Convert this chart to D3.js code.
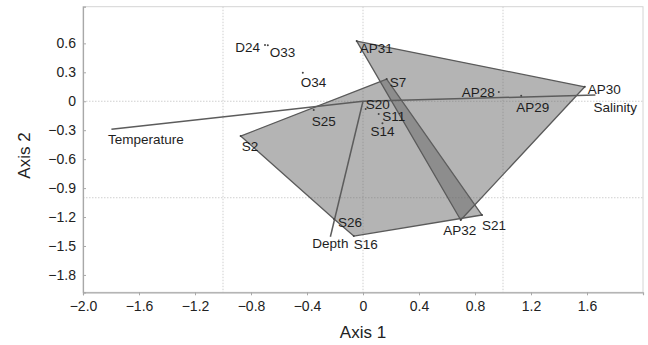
<!DOCTYPE html>
<html>
<head>
<meta charset="utf-8">
<script src="https://cdn.jsdelivr.net/npm/d3@7"></script>
<style>
  html, body { margin: 0; padding: 0; background: #fff; }
  svg { display: block; font-family: "Liberation Sans", Arial, Helvetica, sans-serif; }
</style>
</head>
<body>
<svg id="chart" width="648" height="345"></svg>
<script>
// Site scores on the first two ordination axes
const siteNames = ["D24", "O33", "O34", "AP31", "AP28", "AP29", "AP30", "AP32",
                   "S7", "S2", "S25", "S20", "S11", "S14", "S26", "S16", "S21"];
const siteAxis1 = [-0.70, -0.68, -0.43, -0.045, 0.97, 1.13, 1.584, 0.698,
                   0.169, -0.874, -0.352, 0.019, 0.112, 0.139, -0.207, -0.066, 0.85];
const siteAxis2 = [0.582, 0.58, 0.295, 0.624, 0.095, 0.057, 0.150, -1.231,
                   0.230, -0.361, -0.091, -0.081, -0.133, -0.229, -1.221, -1.397, -1.179];
const siteGroup = ["D", "O", "O", "AP", "AP", "AP", "AP", "AP",
                   "S", "S", "S", "S", "S", "S", "S", "S", "S"];

// Groups that get a convex hull
const hullGroups = ["S", "AP"];

// Environmental vectors (biplot arrows from the origin)
const envNames = ["Temperature", "Salinity", "Depth"];
const envAxis1 = [-1.797, 1.66, -0.233];
const envAxis2 = [-0.291, 0.064, -1.404];

// Axis ticks
const xTicks = [-2.0, -1.6, -1.2, -0.8, -0.4, 0, 0.4, 0.8, 1.2, 1.6];
const yTicks = [0.6, 0.3, 0, -0.3, -0.6, -0.9, -1.2, -1.5, -1.8];
const gridX = [-1, 0, 1];
const gridY = [0, -1];

// Label placement around each point: [dx, dy, anchor]
const labelPlace = {
  D24: [-5, 7, "end"], O33: [2, 11.5, "start"], O34: [-2, 14.5, "start"],
  AP31: [3, 11.5, "start"], AP28: [-4, 4.5, "end"], AP29: [-5, 16, "start"],
  AP30: [3, 7, "start"], AP32: [-1, 15, "middle"], S7: [3, 8, "start"],
  S2: [1, 14.5, "start"], S25: [-2, 15.5, "start"], S20: [0, 0, "start"],
  S11: [3.5, 6.5, "start"], S14: [0, 12.5, "middle"], S26: [4, 8, "start"],
  S16: [0, 12.5, "start"], S21: [0, 15, "start"],
  Temperature: [-3.5, 14.5, "start"], Salinity: [-2, 16.5, "start"], Depth: [0, 11.5, "middle"]
};

const fmt = v => (v < 0 ? "\u2212" : "") + (v === 0 ? "0" : d3.format(".1f")(Math.abs(v)));

const svg = d3.select("#chart");
const plotLeft = 83, plotRight = 643, plotTop = 6.7, plotBottom = 292.3;

const x = d3.scaleLinear().domain([-2, 2]).range([plotLeft, plotRight]);
const y = d3.scaleLinear().domain([-1.98, 0.98]).range([plotBottom, plotTop]);

const sites = siteNames.map((n, i) => ({ name: n, x: siteAxis1[i], y: siteAxis2[i], g: siteGroup[i] }));
const env = envNames.map((n, i) => ({ name: n, x: envAxis1[i], y: envAxis2[i] }));

// Plot frame
svg.append("rect")
  .attr("x", plotLeft).attr("y", plotTop)
  .attr("width", plotRight - plotLeft).attr("height", plotBottom - plotTop)
  .attr("fill", "none").attr("stroke", "#d4d4d4").attr("stroke-width", 1);

// Dotted reference grid
const grid = svg.append("g").attr("stroke", "#cfcfcf").attr("stroke-width", 1).attr("stroke-dasharray", "1.5,1.5");
grid.selectAll("line.gx").data(gridX).join("line").attr("class", "gx")
  .attr("x1", d => x(d)).attr("x2", d => x(d)).attr("y1", plotTop).attr("y2", plotBottom);
grid.selectAll("line.gy").data(gridY).join("line").attr("class", "gy")
  .attr("y1", d => y(d)).attr("y2", d => y(d)).attr("x1", plotLeft).attr("x2", plotRight);

// Axes
const xAxis = d3.axisBottom(x).tickValues(xTicks).tickFormat(fmt).tickSize(3).tickPadding(6);
const yAxis = d3.axisLeft(y).tickValues(yTicks).tickFormat(fmt).tickSize(-3).tickPadding(7);

const gx = svg.append("g").attr("transform", `translate(0,${plotBottom})`).call(xAxis);
const gy = svg.append("g").attr("transform", `translate(${plotLeft},0)`).call(yAxis);
[gx, gy].forEach(g => {
  g.select(".domain").attr("stroke", "#a8a8a8").attr("stroke-width", 1.2);
  g.selectAll(".tick line").attr("stroke", "#a8a8a8");
  g.selectAll(".tick text").attr("fill", "#222").attr("font-size", 14)
    .attr("font-family", "'Liberation Sans', Arial, sans-serif");
});
gy.selectAll(".tick text").attr("x", -7);

// Convex hulls per group
const hullLayer = svg.append("g");
hullGroups.forEach(g => {
  const pts = sites.filter(s => s.g === g).map(s => [x(s.x), y(s.y)]);
  const hull = d3.polygonHull(pts);
  hullLayer.append("path")
    .attr("d", "M" + hull.join("L") + "Z")
    .attr("fill", "#636363").attr("fill-opacity", 0.48)
    .attr("stroke", "#5a5a5a").attr("stroke-width", 1.3).attr("stroke-linejoin", "round");
});

// Environmental vectors
svg.append("g").selectAll("line").data(env).join("line")
  .attr("x1", x(0)).attr("y1", y(0))
  .attr("x2", d => x(d.x)).attr("y2", d => y(d.y))
  .attr("stroke", "#5c5c5c").attr("stroke-width", 1.5);

// Site markers
svg.append("g").selectAll("circle").data(sites).join("circle")
  .attr("cx", d => x(d.x)).attr("cy", d => y(d.y)).attr("r", 1)
  .attr("fill", "#444");

// Labels
const labels = svg.append("g").attr("font-size", 13.5).attr("fill", "#1e1e1e");
labels.selectAll("text").data([...sites, ...env]).join("text")
  .attr("x", d => x(d.x) + labelPlace[d.name][0])
  .attr("y", d => y(d.y) + labelPlace[d.name][1])
  .attr("text-anchor", d => labelPlace[d.name][2])
  .text(d => d.name);

// Axis titles
svg.append("text").attr("x", (plotLeft + plotRight) / 2).attr("y", 338)
  .attr("text-anchor", "middle").attr("font-size", 17).attr("fill", "#222").text("Axis 1");
svg.append("text").attr("transform", `translate(30,${(plotTop + plotBottom) / 2 + 6}) rotate(-90)`)
  .attr("text-anchor", "middle").attr("font-size", 17).attr("fill", "#222").text("Axis 2");
</script>
</body>
</html>
